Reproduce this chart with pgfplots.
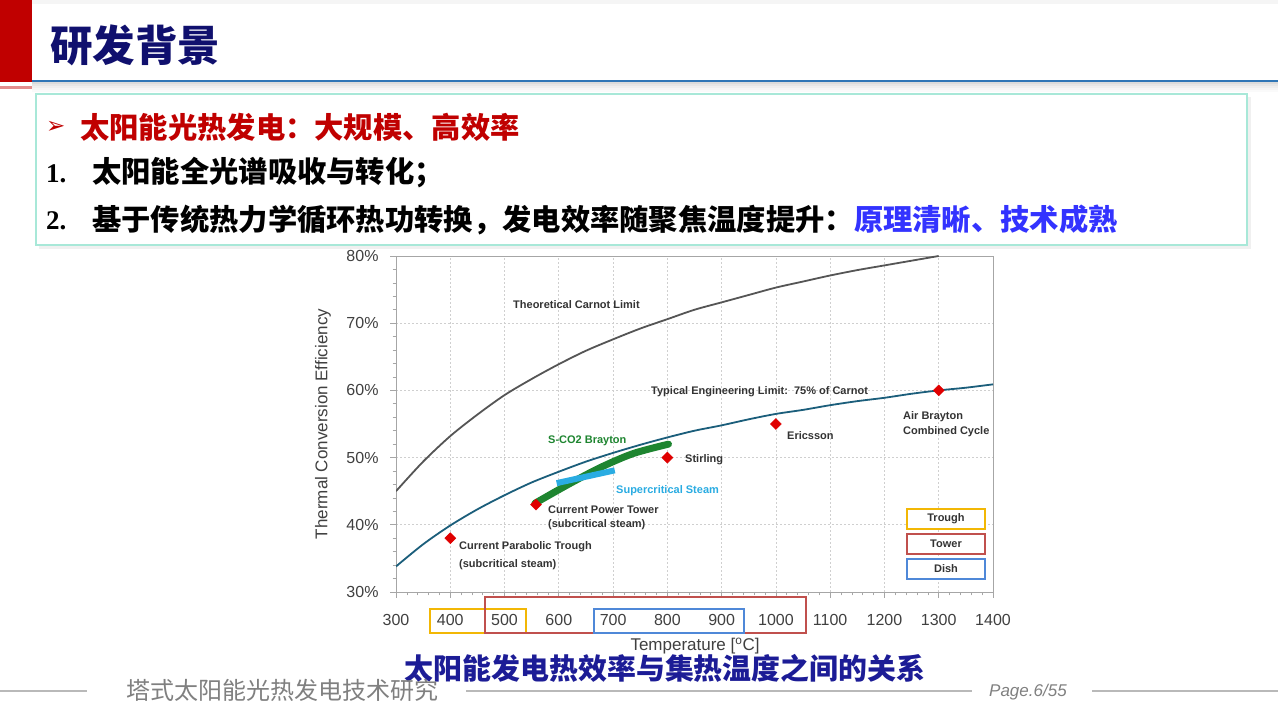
\documentclass[border=0pt]{standalone}
\usepackage{pgfplots}
\pgfplotsset{compat=1.18}
\usepackage{fontspec}
\setmainfont{Liberation Sans}
\newfontfamily\cjk{Noto Sans CJK SC}
\newfontfamily\serifnum{Liberation Serif}
\newfontfamily\sym{DejaVu Sans}

\definecolor{hdrred}{HTML}{C00000}
\definecolor{navy}{HTML}{10106E}
\definecolor{hdrblue}{HTML}{2E75B6}
\definecolor{boxteal}{HTML}{A8E8D8}
\definecolor{txtblue}{HTML}{3333FF}
\definecolor{capblue}{HTML}{1C1C96}
\definecolor{footgray}{HTML}{808080}
\definecolor{carnot}{HTML}{555555}
\definecolor{eng}{HTML}{1B5E7B}
\definecolor{dia}{HTML}{E00000}
\definecolor{sco2}{HTML}{1E8530}
\definecolor{steam}{HTML}{2AACE2}
\definecolor{trough}{HTML}{F2B705}
\definecolor{tower}{HTML}{C0504D}
\definecolor{dish}{HTML}{4F88D8}
\definecolor{ann}{HTML}{333333}
\definecolor{tickc}{HTML}{404040}
\definecolor{framec}{HTML}{A6A6A6}
\definecolor{gridc}{HTML}{CFCFCF}

\newcommand{\ann}{\fontsize{11bp}{13bp}\selectfont\bfseries}
\newcommand{\bodyfont}{\cjk\bfseries\fontsize{29.3bp}{32bp}\selectfont}

\begin{document}
\begin{tikzpicture}[x=1bp,y=1bp]
\path[use as bounding box, fill=white] (0,0) rectangle (1278,718);

\begin{axis}[
  at={(396bp,126bp)}, anchor=south west,
  width=597bp, height=336bp, scale only axis,
  xmin=300, xmax=1400, ymin=30, ymax=80,
  xtick={300,400,...,1400}, ytick={30,40,...,80},
  minor x tick num=4, minor y tick num=4,
  tick pos=left, tick align=outside,
  major tick length=6bp, minor tick length=3.5bp,
  axis line style={framec, line width=0.9bp},
  tick style={framec, line width=0.7bp},
  grid=major,
  major grid style={gridc, line width=0.7bp, dash pattern=on 2bp off 2bp},
  /pgf/number format/assume math mode=true,
  /pgf/number format/1000 sep={},
  ticklabel style={font=\fontsize{16bp}{18bp}\selectfont, text=tickc},
  xticklabel style={yshift=-13bp},
  yticklabel style={xshift=-8bp},
  yticklabel={\pgfmathprintnumber{\tick}\%},
]
  % Theoretical Carnot limit
  \addplot[carnot, line width=1.8bp, smooth] coordinates {
    (300,45.0)(350,49.4)(400,53.2)(450,56.4)(500,59.3)(550,61.7)(600,63.9)
    (650,65.9)(700,67.6)(750,69.2)(800,70.6)(850,72.0)(900,73.1)(950,74.2)
    (1000,75.3)(1050,76.2)(1100,77.1)(1150,77.9)(1200,78.6)(1250,79.3)(1300,80.0)
  };
  % Typical engineering limit (75% of Carnot)
  \addplot[eng, line width=1.8bp, smooth] coordinates {
    (300,33.8)(350,37.1)(400,39.9)(450,42.3)(500,44.4)(550,46.3)(600,47.9)
    (650,49.4)(700,50.7)(750,51.9)(800,53.0)(850,54.0)(900,54.8)(950,55.7)
    (1000,56.5)(1050,57.1)(1100,57.8)(1150,58.4)(1200,58.9)(1250,59.5)
    (1300,60.0)(1350,60.4)(1400,60.9)
  };
  % technologies
  \addplot[only marks, mark=square*, mark size=3.9bp,
           mark options={rotate=45, fill=dia, draw=dia}] coordinates {
    (400,38)(558,43)(800,50)(1000,55)(1300,60)
  };
  % S-CO2 Brayton
  \addplot[sco2, line width=7bp, line cap=round, smooth] coordinates {
    (556,43.2)(615,45.9)(676,48.5)(737,50.6)(802,52.0)
  };
  % Supercritical steam
  \addplot[steam, line width=6bp] coordinates {
    (596,46.2)(703,48.1)
  };
\end{axis}

\begin{scope}[shift={(0,718)}, yscale=-1]
  % header
  \fill[gray!8] (0,0) rectangle (1278,4);
  \fill[hdrred] (0,0) rectangle (32,82);
  \fill[hdrred!45] (0,86) rectangle (32,89);
  \foreach \i/\o in {0/0.35,1/0.25,2/0.17,3/0.1,4/0.05} {
    \fill[black, opacity=\o*0.4] (32,82+2*\i) rectangle (1278,84+2*\i);
  }
  \draw[hdrblue, line width=2.2bp] (32,81) -- (1278,81);
  \node[anchor=west, inner sep=0, text=navy] at (50,45)
    {\cjk\bfseries\fontsize{42.5bp}{46bp}\selectfont 研发背景};

  % text box
  \fill[black, opacity=0.06] (39,97) rectangle (1251,249);
  \draw[boxteal, line width=1.6bp, fill=white] (36,94) rectangle (1247,245);
  \node[anchor=west, inner sep=0, text=hdrred] at (46,127)
    {\sym\fontsize{23bp}{25bp}\selectfont ➢};
  \node[anchor=west, inner sep=0, text=hdrred] at (80,127)
    {\bodyfont 太阳能光热发电：大规模、高效率};
  \node[anchor=west, inner sep=0] at (46,174)
    {\serifnum\bfseries\fontsize{27bp}{30bp}\selectfont 1.};
  \node[anchor=west, inner sep=0] at (92,173)
    {\bodyfont 太阳能全光谱吸收与转化；};
  \node[anchor=west, inner sep=0] at (46,221)
    {\serifnum\bfseries\fontsize{27bp}{30bp}\selectfont 2.};
  \node[anchor=west, inner sep=0] at (92,220)
    {\bodyfont 基于传统热力学循环热功转换，发电效率随聚焦温度提升：\textcolor{txtblue}{原理清晰、技术成熟}};

  % axis titles
  \node[rotate=90, inner sep=0, text=tickc] at (323,424)
    {\fontsize{17bp}{19bp}\selectfont Thermal Conversion Efficiency};
  \node[inner sep=0, text=tickc] at (695,646)
    {\fontsize{17bp}{19bp}\selectfont Temperature [\textsuperscript{o}C]};

  % range boxes under the x axis
  \draw[trough, line width=2bp] (430,609) rectangle (526,633);
  \draw[tower, line width=2bp] (485,597) rectangle (806,633);
  \draw[dish, line width=2bp] (594,609) rectangle (744,633);

  % annotations
  \node[anchor=west, inner sep=0, text=ann] at (513,305) {\ann Theoretical Carnot Limit};
  \node[anchor=west, inner sep=0, text=ann] at (651,392) {\ann Typical Engineering Limit:\ \ 75\% of Carnot};
  \node[anchor=west, inner sep=0, text=sco2] at (548,441) {\ann S-CO2 Brayton};
  \node[anchor=west, inner sep=0, text=ann] at (685,460) {\ann Stirling};
  \node[anchor=west, inner sep=0, text=steam] at (616,491) {\ann Supercritical Steam};
  \node[anchor=west, inner sep=0, text=ann] at (548,510) {\ann Current Power Tower};
  \node[anchor=west, inner sep=0, text=ann] at (548,525) {\ann (subcritical steam)};
  \node[anchor=west, inner sep=0, text=ann] at (459,547) {\ann Current Parabolic Trough};
  \node[anchor=west, inner sep=0, text=ann] at (459,565) {\ann (subcritical steam)};
  \node[anchor=west, inner sep=0, text=ann] at (787,436) {\ann Ericsson};
  \node[anchor=west, inner sep=0, text=ann] at (903,417) {\ann Air Brayton};
  \node[anchor=west, inner sep=0, text=ann] at (903,432) {\ann Combined Cycle};

  % legend boxes
  \draw[trough, line width=1.8bp, fill=white] (907,509) rectangle (985,529);
  \node[text=ann] at (946,519) {\ann Trough};
  \draw[tower, line width=1.8bp, fill=white] (907,534) rectangle (985,554);
  \node[text=ann] at (946,544) {\ann Tower};
  \draw[dish, line width=1.8bp, fill=white] (907,559) rectangle (985,579);
  \node[text=ann] at (946,569) {\ann Dish};

  % caption
  \node[inner sep=0, text=capblue] at (665,668)
    {\cjk\bfseries\fontsize{28.9bp}{30bp}\selectfont 太阳能发电热效率与集热温度之间的关系};

  % footer
  \draw[gray!55, line width=1.5bp] (0,691) -- (87,691);
  \draw[gray!55, line width=1.5bp] (466,691) -- (972,691);
  \draw[gray!55, line width=1.5bp] (1092,691) -- (1278,691);
  \node[anchor=west, inner sep=0, text=footgray] at (126,690)
    {\cjk\fontsize{24bp}{26bp}\selectfont 塔式太阳能光热发电技术研究};
  \node[anchor=west, inner sep=0, text=footgray] at (989,692)
    {\itshape\fontsize{17bp}{19bp}\selectfont Page.6/55};
\end{scope}
\end{tikzpicture}
\end{document}
